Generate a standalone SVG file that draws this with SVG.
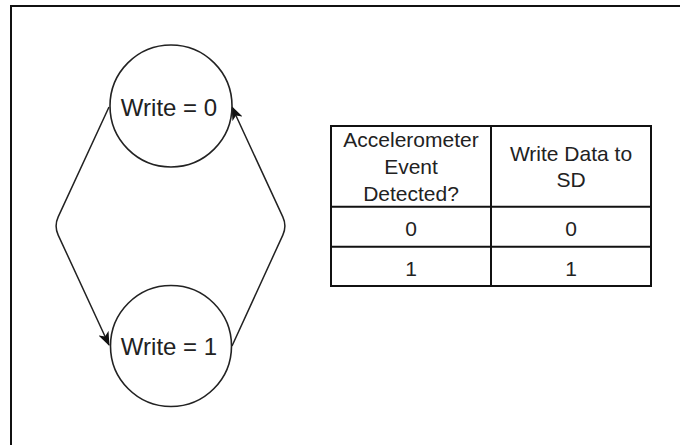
<svg xmlns="http://www.w3.org/2000/svg" width="680" height="445" viewBox="0 0 680 445">
  <style>
    .frame { fill: none; stroke: #111; stroke-width: 2; }
    .state { fill: #fff; stroke: #222; stroke-width: 1.6; }
    .label { font-family: "Liberation Sans", Arial, sans-serif; font-size: 24px; fill: #222; text-anchor: middle; }
    .cell { font-family: "Liberation Sans", Arial, sans-serif; font-size: 21px; fill: #222; text-anchor: middle; }
    .edge { fill: none; stroke: #222; stroke-width: 1.5; marker-end: url(#arrow); }
    .grid { fill: none; stroke: #111; stroke-width: 2; }
  </style>
  <defs>
    <marker id="arrow" viewBox="0 0 14 11" refX="13" refY="5.5" markerWidth="14" markerHeight="11" markerUnits="userSpaceOnUse" orient="auto">
      <path d="M0,0 L14,5.5 L0,11 L3.5,5.5 Z" fill="#111"/>
    </marker>
  </defs>

  <rect width="680" height="445" fill="#fff"/>
  <!-- page frame -->
  <path class="frame" d="M11,445 V6 H680"/>

  <!-- transitions -->
  <g id="connectors">
    <path class="edge" d="M109,107 L58.2,216.9 Q54,226 58.2,235.1 L109,345"/>
    <path class="edge" d="M232,346 L282.8,235.1 Q287,226 282.8,216.9 L232,107"/>
  </g>

  <g id="state-write0">
    <circle class="state" cx="171" cy="106" r="61"/>
    <text class="label" x="169" y="116">Write = 0</text>
  </g>

  <g id="state-write1">
    <circle class="state" cx="171" cy="346" r="60.5"/>
    <text class="label" x="169" y="355">Write = 1</text>
  </g>

  <!-- truth table -->
  <g id="table">
    <rect class="grid" x="331" y="126" width="320" height="160"/>
    <line class="grid" x1="331" y1="206.7" x2="651" y2="206.7"/>
    <line class="grid" x1="331" y1="246.7" x2="651" y2="246.7"/>
    <line class="grid" x1="491" y1="126" x2="491" y2="286" stroke-width="3.5"/>
    <text class="cell" x="411" y="147">Accelerometer</text>
    <text class="cell" x="411" y="174">Event</text>
    <text class="cell" x="411" y="201">Detected?</text>
    <text class="cell" x="571" y="161">Write Data to</text>
    <text class="cell" x="571" y="187">SD</text>
    <text class="cell" x="411" y="236">0</text>
    <text class="cell" x="571" y="236">0</text>
    <text class="cell" x="411" y="276">1</text>
    <text class="cell" x="571" y="276">1</text>
  </g>
</svg>
